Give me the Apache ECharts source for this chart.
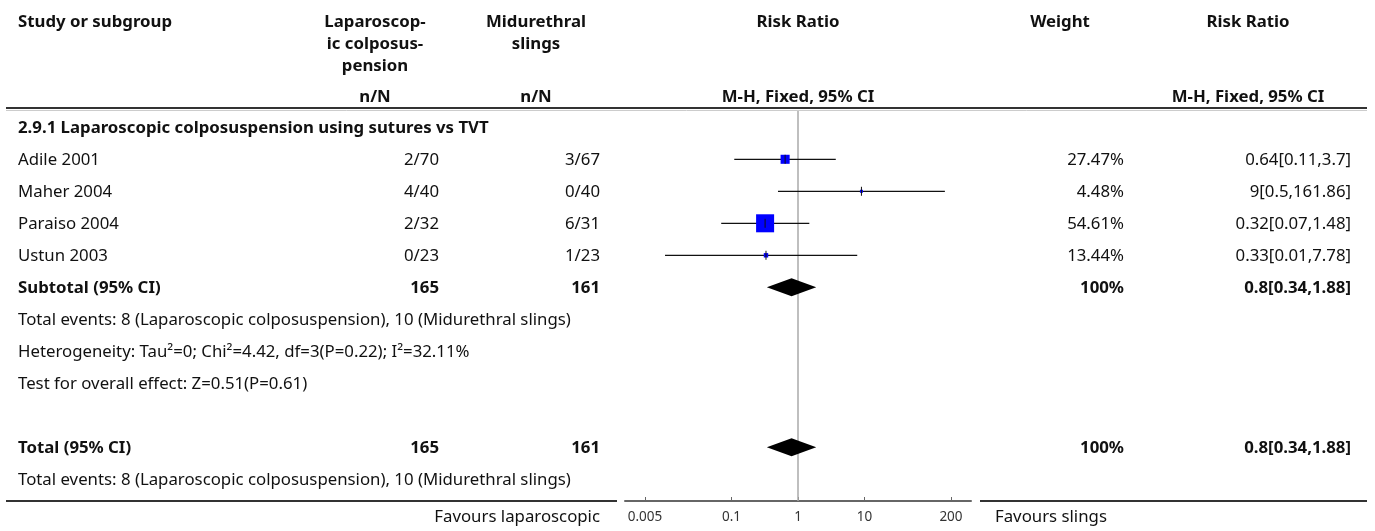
<!DOCTYPE html>
<html>
<head>
<meta charset="utf-8">
<script src="https://cdn.jsdelivr.net/npm/echarts@6/dist/echarts.min.js"></script>
<style>
html,body{margin:0;padding:0;background:#fff;}
#chart{width:1375px;height:531px;}
</style>
</head>
<body>
<div id="chart"></div>
<script>
// ---- data ----
const subgroupTitle = '2.9.1 Laparoscopic colposuspension using sutures vs TVT';
const studies = ['Adile 2001', 'Maher 2004', 'Paraiso 2004', 'Ustun 2003'];
const lapEvents = ['2/70', '4/40', '2/32', '0/23'];
const slingEvents = ['3/67', '0/40', '6/31', '1/23'];
const rr = [0.64, 9, 0.32, 0.33];
const ciLow = [0.11, 0.5, 0.07, 0.01];
const ciHigh = [3.7, 161.86, 1.48, 7.78];
const weights = [27.47, 4.48, 54.61, 13.44];
const summaryLabels = ['Subtotal (95% CI)', 'Total (95% CI)'];
const summaryLapN = [165, 165];
const summarySlingN = [161, 161];
const summaryRR = [0.8, 0.8];
const summaryLow = [0.34, 0.34];
const summaryHigh = [1.88, 1.88];
const summaryWeight = ['100%', '100%'];
const totalEventsText = 'Total events: 8 (Laparoscopic colposuspension), 10 (Midurethral slings)';
const heterogeneityText = 'Heterogeneity: Tau\u00B2=0; Chi\u00B2=4.42, df=3(P=0.22); I\u00B2=32.11%';
const overallEffectText = 'Test for overall effect: Z=0.51(P=0.61)';
const tickValues = [0.005, 0.1, 1, 10, 200];
const favoursLeft = 'Favours laparoscopic';
const favoursRight = 'Favours slings';

// row indices
const studyRows = [1, 2, 3, 4];
const summaryRows = [5, 10];

const FONT = '"Noto Sans", "Open Sans", sans-serif';
const FS = 16.8;
const TXT = '#111';

const chart = echarts.init(document.getElementById('chart'), null, {renderer: 'canvas'});

const studyData = studies.map((s, i) => [rr[i], ciLow[i], ciHigh[i], studyRows[i], weights[i]]);
const summaryData = summaryRows.map((r, i) => [summaryRR[i], summaryLow[i], summaryHigh[i], r]);

const option = {
  animation: false,
  backgroundColor: '#fff',
  grid: {left: 625, right: 404, top: 111, bottom: 30, containLabel: false},
  xAxis: {
    type: 'log', logBase: 10, min: 0.0025, max: 400,
    position: 'bottom',
    axisLine: {show: true, onZero: false, lineStyle: {color: '#666', width: 2}},
    axisTick: {show: true, inside: true, length: 4, lineStyle: {color: '#666', width: 1}, customValues: tickValues},
    axisLabel: {show: true, margin: 9, color: '#333', fontSize: 13.5, fontFamily: FONT,
      customValues: tickValues, formatter: v => String(+v.toPrecision(6))},
    splitLine: {show: false},
    minorTick: {show: false}
  },
  yAxis: {
    type: 'value', inverse: true, min: -0.509, max: 11.678, show: false
  },
  series: [
    {
      type: 'custom',
      data: studyData,
      encode: {x: [0, 1, 2], y: 3},
      clip: false,
      z: 5,
      renderItem: function (params, api) {
        const y = api.value(3);
        const pLo = api.coord([api.value(1), y]);
        const pHi = api.coord([api.value(2), y]);
        const pE = api.coord([api.value(0), y]);
        const s = Math.max(3, api.value(4) * 0.33);
        return {
          type: 'group',
          children: [
            {type: 'line', shape: {x1: pLo[0], y1: pLo[1], x2: pHi[0], y2: pHi[1]}, style: {stroke: '#111', lineWidth: 1.2}},
            {type: 'rect', shape: {x: pE[0] - s / 2, y: pE[1] - s / 2, width: s, height: s}, style: {fill: '#0000ff'}},
            {type: 'line', shape: {x1: pE[0], y1: pE[1] - 4.5, x2: pE[0], y2: pE[1] + 4.5}, style: {stroke: '#111', lineWidth: 1}}
          ]
        };
      },
      markLine: {
        silent: true, symbol: 'none', animation: false,
        label: {show: false},
        lineStyle: {color: '#aaa', width: 1.5, type: 'solid'},
        data: [{xAxis: 1}]
      }
    },
    {
      type: 'custom',
      data: summaryData,
      encode: {x: [0, 1, 2], y: 3},
      z: 6,
      renderItem: function (params, api) {
        const y = api.value(3);
        const pLo = api.coord([api.value(1), y]);
        const pHi = api.coord([api.value(2), y]);
        const pE = api.coord([api.value(0), y]);
        return {
          type: 'polygon',
          shape: {points: [[pLo[0], pLo[1]], [pE[0], pE[1] - 9], [pHi[0], pHi[1]], [pE[0], pE[1] + 9]]},
          style: {fill: '#000'}
        };
      }
    }
  ]
};
chart.setOption(option);

function rowY(k) { return chart.convertToPixel({yAxisIndex: 0}, k) + 1; }

const g = [];
function txt(x, y, text, align, bold, size, color) {
  g.push({
    type: 'text', x: x, y: y, silent: true,
    style: {text: text, align: align || 'left', verticalAlign: 'middle',
      font: (bold ? 'bold ' : '') + (size || FS) + 'px ' + FONT, fill: color || TXT}
  });
}
function hline(x1, x2, y, color, w) {
  g.push({type: 'line', silent: true, shape: {x1: x1, y1: y, x2: x2, y2: y}, style: {stroke: color, lineWidth: w}});
}

// header
txt(18, 22, 'Study or subgroup', 'left', true);
txt(375, 22, 'Laparoscop-', 'center', true);
txt(375, 44, 'ic colposus-', 'center', true);
txt(375, 66, 'pension', 'center', true);
txt(536, 22, 'Midurethral', 'center', true);
txt(536, 44, 'slings', 'center', true);
txt(798, 22, 'Risk Ratio', 'center', true);
txt(1060, 22, 'Weight', 'center', true);
txt(1248, 22, 'Risk Ratio', 'center', true);
txt(375, 97, 'n/N', 'center', true);
txt(536, 97, 'n/N', 'center', true);
txt(798, 97, 'M-H, Fixed, 95% CI', 'center', true);
txt(1248, 97, 'M-H, Fixed, 95% CI', 'center', true);
hline(6, 1367, 108, '#333', 2);
hline(6, 1367, 110.5, '#ccc', 1);

// subgroup
txt(18, rowY(0), subgroupTitle, 'left', true);
studies.forEach((s, i) => {
  const y = rowY(studyRows[i]);
  txt(18, y, s, 'left', false);
  txt(439, y, lapEvents[i], 'right', false);
  txt(600, y, slingEvents[i], 'right', false);
  txt(1124, y, weights[i].toFixed(2) + '%', 'right', false);
  txt(1351, y, rr[i] + '[' + ciLow[i] + ',' + ciHigh[i] + ']', 'right', false);
});
summaryRows.forEach((r, i) => {
  const y = rowY(r);
  txt(18, y, summaryLabels[i], 'left', true);
  txt(439, y, String(summaryLapN[i]), 'right', true);
  txt(600, y, String(summarySlingN[i]), 'right', true);
  txt(1124, y, summaryWeight[i], 'right', true);
  txt(1351, y, summaryRR[i] + '[' + summaryLow[i] + ',' + summaryHigh[i] + ']', 'right', true);
});
txt(18, rowY(6), totalEventsText, 'left', false);
txt(18, rowY(7), heterogeneityText, 'left', false);
txt(18, rowY(8), overallEffectText, 'left', false);
txt(18, rowY(11), totalEventsText, 'left', false);

// bottom rules
hline(6, 617, 501, '#333', 2);
hline(980, 1367, 501, '#333', 2);
txt(600, 517, favoursLeft, 'right', false);
txt(995, 517, favoursRight, 'left', false);

chart.setOption({graphic: {elements: g}});
</script>
</body>
</html>
